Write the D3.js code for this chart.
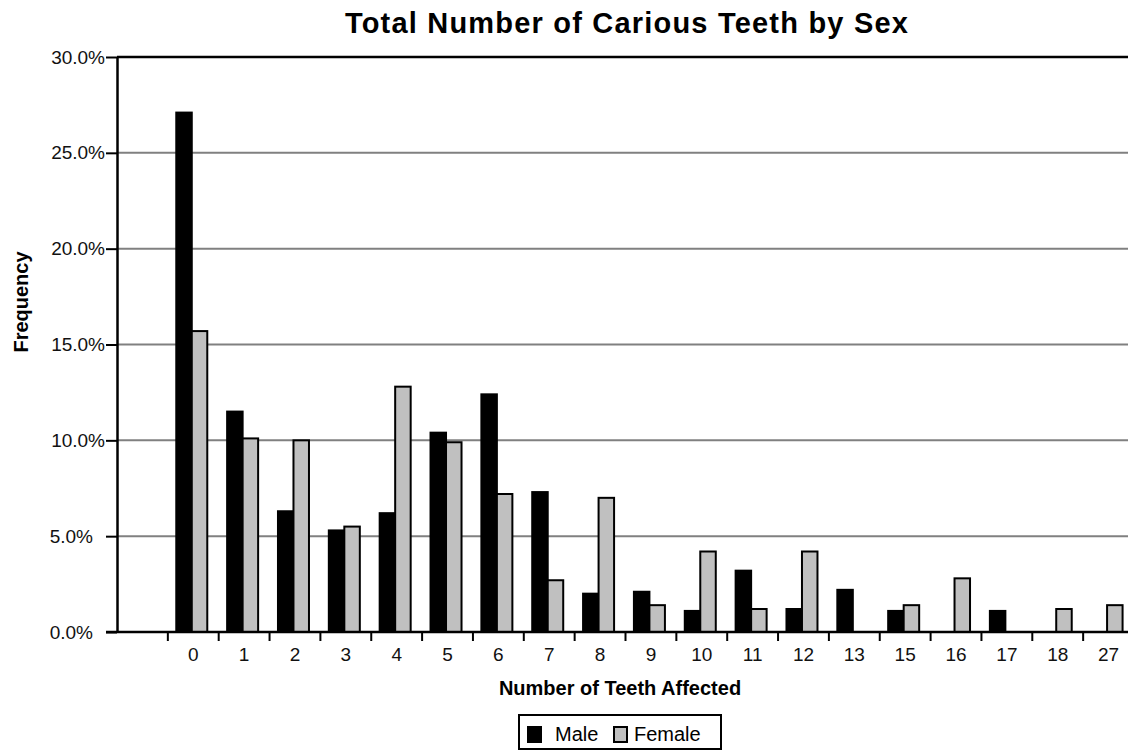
<!DOCTYPE html>
<html>
<head>
<meta charset="utf-8">
<script src="https://cdn.jsdelivr.net/npm/d3@7"></script>
<style>
  body { margin: 0; background: #fff; }
  svg { display: block; font-family: "Liberation Sans", Arial, Helvetica, sans-serif; }
</style>
</head>
<body>
<div id="chart"></div>
<script>
const categories = ["0", "1", "2", "3", "4", "5", "6", "7", "8", "9", "10", "11", "12", "13", "15", "16", "17", "18", "27"];
const maleValues = [27.1, 11.5, 6.3, 5.3, 6.2, 10.4, 12.4, 7.3, 2.0, 2.1, 1.1, 3.2, 1.2, 2.2, 1.1, 0, 1.1, 0, 0];
const femaleValues = [15.7, 10.1, 10.0, 5.5, 12.8, 9.9, 7.2, 2.7, 7.0, 1.4, 4.2, 1.2, 4.2, 0, 1.4, 2.8, 0, 1.2, 1.4];
const series = ["Male", "Female"];
const yTicks = [0, 5, 10, 15, 20, 25, 30];

const fullWidth = 1128;
const fullHeight = 751;

const plotLeft = 117;
const plotTop = 57;
const plotBottom = 632;

// one empty slot before "0", the plot runs a bit past the right edge
const slots = [""].concat(categories);

const x = d3.scaleBand()
    .domain(slots)
    .range([plotLeft, plotLeft + 20 * 50.85])
    .paddingInner(0)
    .paddingOuter(0);

const sexScale = d3.scaleBand()
    .domain(series)
    .range([0, 31]);

const y = d3.scaleLinear()
    .domain([0, 30])
    .range([plotBottom, plotTop]);

const color = { Male: "#000", Female: "#c0c0c0" };

const rows = [];
categories.forEach((c, i) => {
    rows.push({ cat: c, sex: "Male", value: maleValues[i] });
    rows.push({ cat: c, sex: "Female", value: femaleValues[i] });
});

const svg = d3.select("#chart")
    .append("svg")
    .attr("width", fullWidth)
    .attr("height", fullHeight);

// title
svg.append("text")
    .attr("x", 627)
    .attr("y", 33)
    .attr("text-anchor", "middle")
    .attr("font-size", 29)
    .attr("font-weight", "bold")
    .attr("letter-spacing", 1.2)
    .text("Total Number of Carious Teeth by Sex");

// gridlines
svg.append("g")
    .selectAll("line")
    .data(yTicks.filter(d => d > 0 && d < 30))
    .enter()
    .append("line")
    .attr("x1", plotLeft)
    .attr("x2", fullWidth)
    .attr("y1", d => y(d))
    .attr("y2", d => y(d))
    .attr("stroke", "#808080")
    .attr("stroke-width", 2);

// top border line at 30%
svg.append("line")
    .attr("x1", plotLeft)
    .attr("x2", fullWidth)
    .attr("y1", y(30))
    .attr("y2", y(30))
    .attr("stroke", "#000")
    .attr("stroke-width", 2.5);

// bars
const bw = sexScale.bandwidth();
svg.append("g")
    .selectAll("rect")
    .data(rows.filter(d => d.value > 0))
    .enter()
    .append("rect")
    .attr("x", d => x(d.cat) + x.bandwidth() / 2 - 17 + sexScale(d.sex))
    .attr("width", bw)
    .attr("y", d => y(d.value))
    .attr("height", d => y(0) - y(d.value))
    .attr("fill", d => color[d.sex])
    .attr("stroke", "#000")
    .attr("stroke-width", 2);

// y axis
const yAxis = d3.axisLeft(y)
    .tickValues(yTicks)
    .tickFormat(d => d.toFixed(1) + "%")
    .tickSize(11)
    .tickSizeOuter(0)
    .tickPadding(1);

const yg = svg.append("g")
    .attr("transform", `translate(${plotLeft},0)`)
    .call(yAxis);
yg.select(".domain").attr("stroke-width", 2.5);
yg.selectAll(".tick line").attr("stroke-width", 2);
yg.selectAll(".tick text")
    .attr("font-size", 19)
    .attr("font-family", "Liberation Sans, Arial, sans-serif")
    .attr("fill", "#111")
    .attr("dx", d => d < 10 ? -12 : 0);

// x axis baseline
svg.append("line")
    .attr("x1", 106)
    .attr("x2", fullWidth)
    .attr("y1", plotBottom)
    .attr("y2", plotBottom)
    .attr("stroke", "#000")
    .attr("stroke-width", 2.5);

// x axis labels
const xAxis = d3.axisBottom(x).tickSize(0).tickPadding(16);
const xg = svg.append("g")
    .attr("transform", `translate(0,${plotBottom})`)
    .call(xAxis);
xg.select(".domain").remove();
xg.selectAll(".tick text")
    .attr("font-size", 19)
    .attr("font-family", "Liberation Sans, Arial, sans-serif")
    .attr("fill", "#111");

// tick marks between categories
svg.append("g")
    .selectAll("line")
    .data(slots)
    .enter()
    .append("line")
    .attr("x1", d => x(d) + x.bandwidth())
    .attr("x2", d => x(d) + x.bandwidth())
    .attr("y1", plotBottom)
    .attr("y2", plotBottom + 9)
    .attr("stroke", "#000")
    .attr("stroke-width", 2);

// axis titles
svg.append("text")
    .attr("x", 620)
    .attr("y", 695)
    .attr("text-anchor", "middle")
    .attr("font-size", 20)
    .attr("font-weight", "bold")
    .text("Number of Teeth Affected");

svg.append("text")
    .attr("transform", "translate(28,302) rotate(-90)")
    .attr("text-anchor", "middle")
    .attr("font-size", 20)
    .attr("font-weight", "bold")
    .text("Frequency");

// legend
const legend = svg.append("g").attr("transform", "translate(519,715)");
legend.append("rect")
    .attr("width", 202)
    .attr("height", 34)
    .attr("fill", "#fff")
    .attr("stroke", "#000")
    .attr("stroke-width", 2);

const legendItems = [
    { sex: "Male", sx: 9, tx: 36 },
    { sex: "Female", sx: 95, tx: 115 }
];
legendItems.forEach(it => {
    legend.append("rect")
        .attr("x", it.sx)
        .attr("y", 12)
        .attr("width", 13)
        .attr("height", 15)
        .attr("fill", color[it.sex])
        .attr("stroke", "#000")
        .attr("stroke-width", 2);
    legend.append("text")
        .attr("x", it.tx)
        .attr("y", 26)
        .attr("font-size", 20)
        .text(it.sex);
});
</script>
</body>
</html>
